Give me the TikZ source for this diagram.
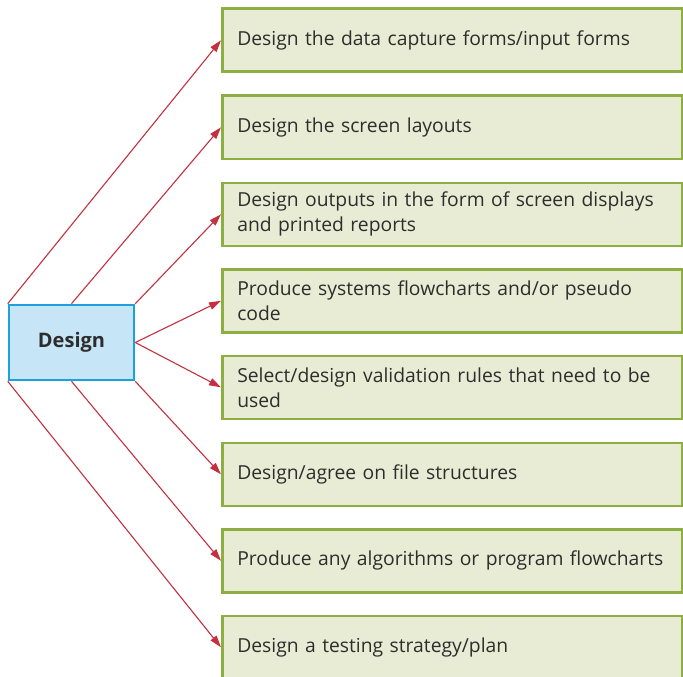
\documentclass[tikz,border=0pt]{standalone}
\usepackage{fontspec}
\setmainfont{Open Sans}
\usetikzlibrary{arrows.meta}
\definecolor{boxgreen}{RGB}{232,236,212}
\definecolor{edgegreen}{RGB}{141,174,64}
\definecolor{boxblue}{RGB}{198,230,248}
\definecolor{edgeblue}{RGB}{30,160,220}
\definecolor{linered}{RGB}{196,48,64}
\definecolor{textgray}{RGB}{45,45,45}
\begin{document}
\begin{tikzpicture}[x=1pt,y=-1pt,
  itembox/.style={draw=edgegreen, line width=2.6pt, fill=boxgreen, anchor=north west,
    minimum width=460pt, minimum height=63pt, text width=430pt, inner xsep=15pt, inner ysep=0pt,
    align=left, font=\fontsize{19.3}{25}\selectfont, text=textgray},
  mainbox/.style={draw=edgeblue, line width=2.6pt, fill=boxblue, minimum width=125pt,
    minimum height=75pt, font=\fontsize{20}{24}\selectfont\bfseries, text=textgray},
  conn/.style={draw=linered, line width=1.1pt, -{Triangle[length=12pt,width=7.5pt]}}
]
\useasboundingbox (0,0) rectangle (683,677);
\fill[white] (0,0) rectangle (683,677);
\node[mainbox] (d) at (71.5,342.5) {Design};
\node[itembox] (b1) at (221,7.5) {Design the data capture forms/input forms};
\node[itembox] (b2) at (221,94.5) {Design the screen layouts};
\node[itembox] (b3) at (221,181.5) {Design outputs in the form of screen displays and printed reports};
\node[itembox] (b4) at (221,268) {Produce systems flowcharts and/or pseudo code};
\node[itembox] (b5) at (221,354.5) {Select/design validation rules that need to be used};
\node[itembox] (b6) at (221,441.5) {Design/agree on file structures};
\node[itembox] (b7) at (221,528) {Produce any algorithms or program flowcharts};
\node[itembox] (b8) at (221,614.5) {Design a testing strategy/plan};
\draw[conn] (d.north west) -- (b1.west);
\draw[conn] (d.north) -- (b2.west);
\draw[conn] (d.north east) -- (b3.west);
\draw[conn] (d.east) -- (b4.west);
\draw[conn] (d.east) -- (b5.west);
\draw[conn] (d.south east) -- (b6.west);
\draw[conn] (d.south) -- (b7.west);
\draw[conn] (d.south west) -- (b8.west);
\end{tikzpicture}
\end{document}
